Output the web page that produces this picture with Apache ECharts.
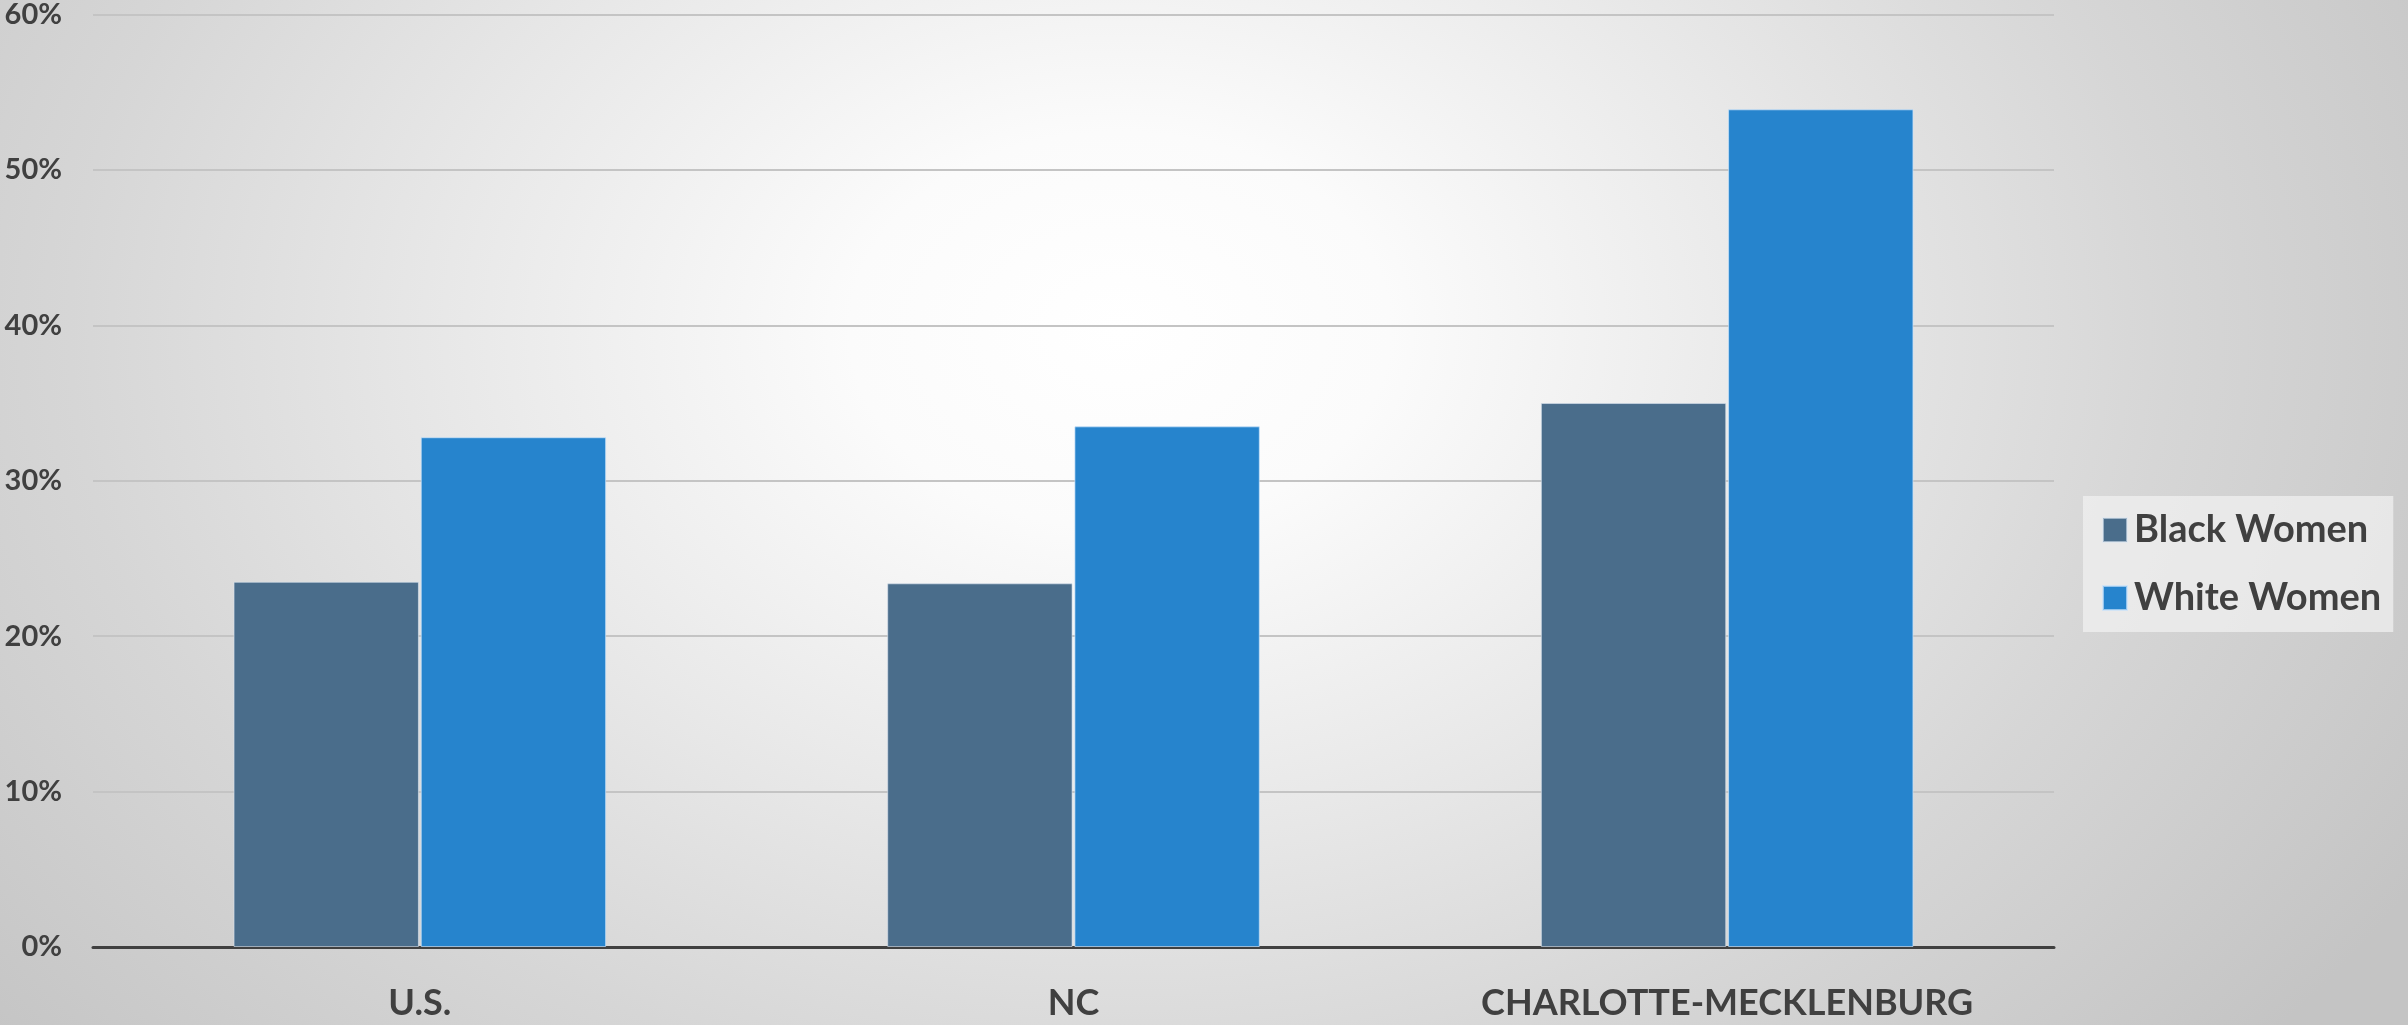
<!DOCTYPE html>
<html>
<head>
<meta charset="utf-8">
<script src="https://cdn.jsdelivr.net/npm/echarts@6/dist/echarts.min.js"></script>
<style>
html,body{margin:0;padding:0;width:2408px;height:1025px;overflow:hidden;}
body{background:radial-gradient(ellipse 1500px 1100px at 1120px 330px,#ffffff 0%,#fbfbfb 18%,#e8e8e8 45%,#d6d6d6 70%,#c4c4c4 100%);}
#c{width:2408px;height:1025px;}
</style>
</head>
<body>
<div id="c"></div>
<script>
const categories = ['U.S.', 'NC', 'CHARLOTTE-MECKLENBURG'];
const blackWomen = [23.5, 23.4, 35.0];
const whiteWomen = [32.8, 33.5, 53.9];
const yTicks = [0, 10, 20, 30, 40, 50, 60];

const chart = echarts.init(document.getElementById('c'));
chart.setOption({
  backgroundColor: 'transparent',
  animation: false,
  textStyle: { fontFamily: 'Lato', fontWeight: 'bold', color: '#404040' },
  grid: { left: 93, right: 354, top: 14, bottom: 78, containLabel: false },
  legend: {
    orient: 'vertical',
    left: 2083,
    top: 496,
    padding: [12, 12, 12, 19],
    backgroundColor: 'rgba(240,240,240,0.75)',
    itemWidth: 24,
    itemHeight: 24,
    itemGap: 24,
    icon: 'rect',
    textStyle: { fontFamily: 'Lato', fontWeight: 'bold', fontSize: 38, color: '#404040', lineHeight: 44, padding: [0,0,0,2] },
    data: ['Black Women', 'White Women']
  },
  xAxis: {
    type: 'category',
    data: categories,
    axisLine: { lineStyle: { color: '#404040', width: 3 } },
    axisTick: { show: false },
    axisLabel: { fontFamily: 'Lato', fontWeight: 'bold', fontSize: 36, color: '#404040', margin: 38 }
  },
  yAxis: {
    type: 'value',
    min: yTicks[0],
    max: yTicks[yTicks.length - 1],
    interval: 10,
    axisLine: { show: false },
    axisTick: { show: false },
    splitLine: { lineStyle: { color: '#c4c4c4', width: 2 } },
    axisLabel: { fontFamily: 'Lato', fontWeight: 'bold', fontSize: 29, color: '#404040', margin: 31, formatter: '{value}%' }
  },
  series: [
    {
      name: 'Black Women', type: 'bar', data: blackWomen,
      barGap: '1%', barCategoryGap: '43%',
      itemStyle: { color: '#4a6d8b', borderColor: 'rgba(220,230,240,0.6)', borderWidth: 1 }
    },
    {
      name: 'White Women', type: 'bar', data: whiteWomen,
      itemStyle: { color: '#2684cd', borderColor: 'rgba(200,225,250,0.7)', borderWidth: 1 }
    }
  ]
});
</script>
</body>
</html>
